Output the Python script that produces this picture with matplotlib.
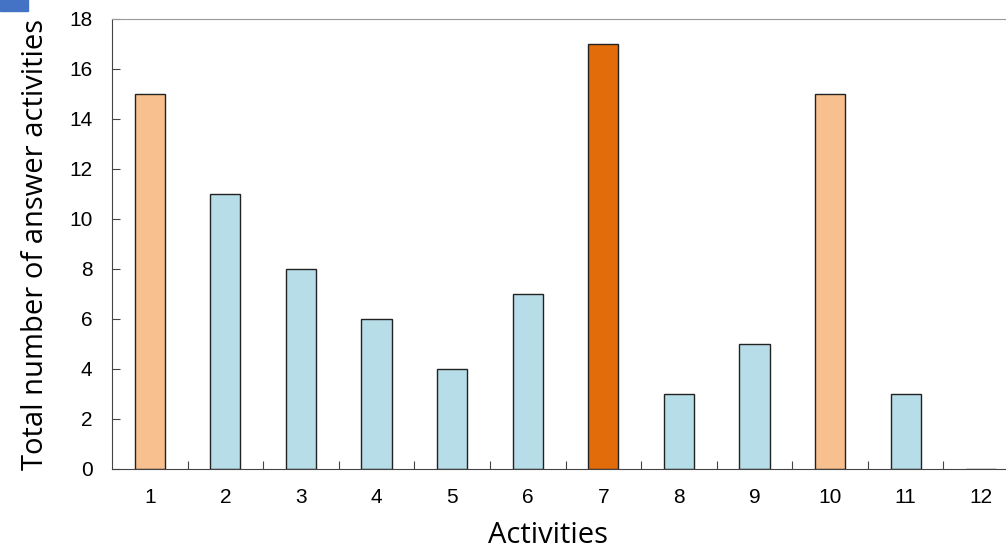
import matplotlib
matplotlib.use('Agg')
import matplotlib.pyplot as plt
from matplotlib.patches import Rectangle

activities = ['1', '2', '3', '4', '5', '6', '7', '8', '9', '10', '11', '12']
totals = [15, 11, 8, 6, 4, 7, 17, 3, 5, 15, 3, 0]
bar_colors = ['#F9C08F', '#B7DDE8', '#B7DDE8', '#B7DDE8', '#B7DDE8', '#B7DDE8',
              '#E36C0A', '#B7DDE8', '#B7DDE8', '#F9C08F', '#B7DDE8', '#B7DDE8']

fig = plt.figure(figsize=(10.06, 5.51), dpi=100)
ax = fig.add_axes([112 / 1006, 1 - 469 / 551, 907 / 1006, 450 / 551])

x = list(range(1, len(activities) + 1))
ax.bar(x, totals, width=0.4, color=bar_colors, edgecolor='#222222', linewidth=1)

ax.set_xlim(0.5, 12.5)
ax.set_ylim(0, 18)
ax.set_yticks(range(0, 19, 2))

# tick marks between categories, labels at the centres
ax.set_xticks([i + 0.5 for i in x[:-1]])
ax.set_xticklabels([])
ax.set_xticks(x, minor=True)
ax.set_xticklabels(activities, minor=True)
ax.tick_params(axis='x', which='major', direction='in', length=6, color='#444444')
ax.tick_params(axis='x', which='minor', length=0, pad=14)
ax.tick_params(axis='y', direction='in', length=6, color='#444444', pad=14)

for lab in ax.get_xticklabels(minor=True) + ax.get_yticklabels():
    lab.set_fontfamily('Liberation Sans')
    lab.set_fontsize(15)

ax.spines['left'].set_color('#444444')
ax.spines['bottom'].set_color('#444444')
ax.spines['top'].set_color('#999999')
ax.spines['right'].set_visible(False)

ax.set_xlabel('Activities', fontsize=21, family='Open Sans')
ax.xaxis.set_label_coords((548 - 112) / 907, -0.115)
ax.set_ylabel('Total number of answer activities', fontsize=21, family='Open Sans', labelpad=14)

fig.patches.append(Rectangle((0, 1 - 11 / 551), 28 / 1006, 11 / 551,
                             transform=fig.transFigure, color='#4472C4'))

fig.savefig('out.png', dpi=100)
